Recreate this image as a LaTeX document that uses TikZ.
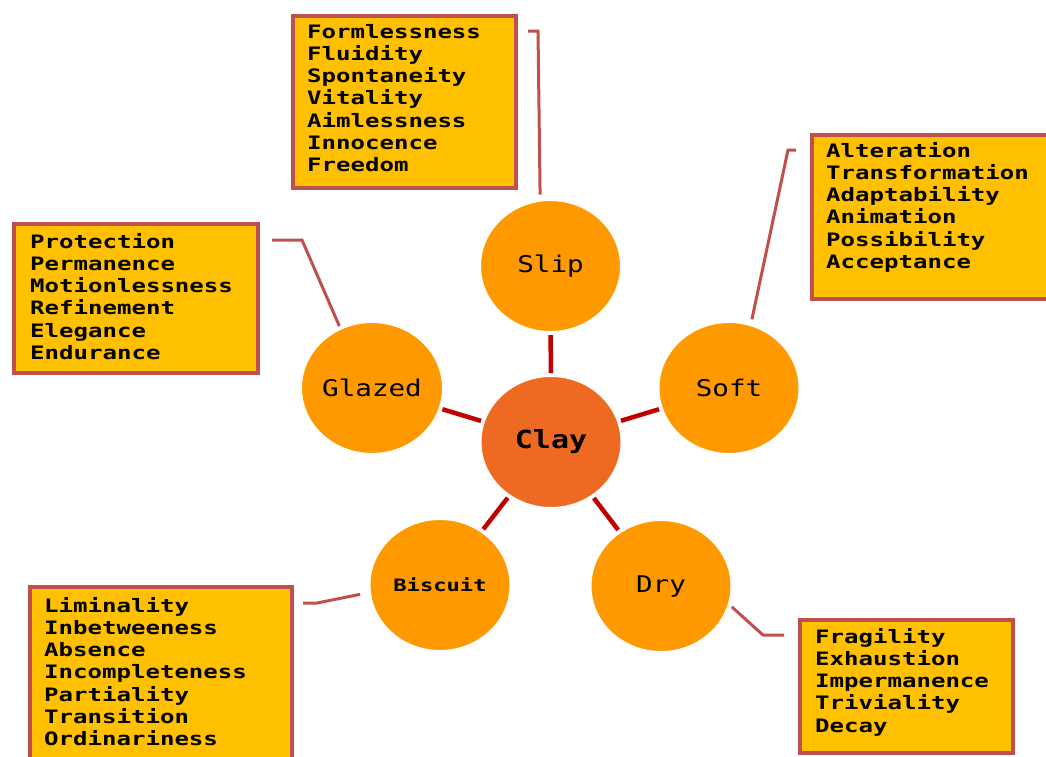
\documentclass[tikz,border=0pt]{standalone}
\usepackage{fontspec}
\usetikzlibrary{shapes.geometric}
\newfontfamily\boxfont[FakeStretch=1.3]{DejaVu Sans Mono}
\newfontfamily\circfont[FakeStretch=1.2]{DejaVu Sans Mono}
\definecolor{boxfill}{HTML}{FFC000}
\definecolor{boxline}{HTML}{C0504D}
\definecolor{circfill}{HTML}{FF9900}
\definecolor{clayfill}{HTML}{EE6A22}
\definecolor{spokecol}{HTML}{C00000}
\tikzset{
  listbox/.style={draw=boxline, fill=boxfill, line width=4pt, rectangle, inner sep=0pt, anchor=north west},
  listtext/.style={anchor=north west, inner sep=0pt, align=left, font=\boxfont\bfseries\fontsize{18.5}{22.2}\selectfont},
  stage/.style={ellipse, fill=circfill, draw=white, line width=1pt, minimum width=140pt, minimum height=131pt, inner sep=0pt, font=\circfont\fontsize{23}{26}\selectfont},
  core/.style={stage, fill=clayfill, font=\circfont\bfseries\fontsize{25}{28}\selectfont},
  spoke/.style={draw=spokecol, line width=4.5pt, shorten <=3pt, shorten >=3pt},
  callout/.style={draw=boxline, line width=3pt}
}
\begin{document}
\begin{tikzpicture}[x=1pt,y=-1pt]
\useasboundingbox (0,0) rectangle (1046,756);
\clip (0,0) rectangle (1046,756);
% circles
\node[core] (clay) at (551,442) {Clay};
\node[stage] (slip) at (550.5,266) {Slip};
\node[stage] (soft) at (729,388) {Soft};
\node[stage] (glazed) at (372,388) {Glazed};
\node[stage, font=\boxfont\bfseries\fontsize{17}{20}\selectfont] (biscuit) at (440,585) {Biscuit};
\node[stage] (dry) at (661,586) {Dry};
% spokes
\draw[spoke] (clay) -- (slip);
\draw[spoke] (clay) -- (soft);
\draw[spoke] (clay) -- (glazed);
\draw[spoke] (clay) -- (biscuit);
\draw[spoke] (clay) -- (dry);
% boxes
\node[listbox, minimum width=223pt, minimum height=172pt] (slipbox) at (291,14) {};
\node[listbox, minimum width=250pt, minimum height=164pt] (softbox) at (810,133) {};
\node[listbox, minimum width=244pt, minimum height=149pt] (glazedbox) at (12,222) {};
\node[listbox, minimum width=262pt, minimum height=200pt] (biscuitbox) at (28,585) {};
\node[listbox, minimum width=213pt, minimum height=133pt] (drybox) at (798,618) {};
% texts
\node[listtext] (sliptext) at (307,24) {Formlessness\\Fluidity\\Spontaneity\\Vitality\\Aimlessness\\Innocence\\Freedom};
\node[listtext] (softtext) at (826,142) {Alteration\\Transformation\\Adaptability\\Animation\\Possibility\\Acceptance};
\node[listtext] (glazedtext) at (30,233) {Protection\\Permanence\\Motionlessness\\Refinement\\Elegance\\Endurance};
\node[listtext] (biscuittext) at (44,597) {Liminality\\Inbetweeness\\Absence\\Incompleteness\\Partiality\\Transition\\Ordinariness};
\node[listtext] (drytext) at (815,628) {Fragility\\Exhaustion\\Impermanence\\Triviality\\Decay};
% callout coordinates
\coordinate (sa) at (528,31);
\coordinate (sb) at (538,31);
\coordinate (ta) at (796,150);
\coordinate (tb) at (788,150);
\coordinate (ga) at (272,240);
\coordinate (gb) at (302,240);
\coordinate (ba) at (303,603);
\coordinate (bb) at (317,603);
\coordinate (da) at (763,635);
\coordinate (db) at (784,635);
% callouts
\draw[callout, shorten >=6pt] (sa) -- (sb) -- (slip.99);
\draw[callout, shorten >=6pt] (ta) -- (tb) -- (soft.71);
\draw[callout, shorten >=3pt] (ga) -- (gb) -- (glazed.118);
\draw[callout, shorten >=10pt] (ba) -- (bb) -- (biscuit.186);
\draw[callout, shorten <=4pt] (dry.-15) -- (da) -- (db);
\end{tikzpicture}
\end{document}
